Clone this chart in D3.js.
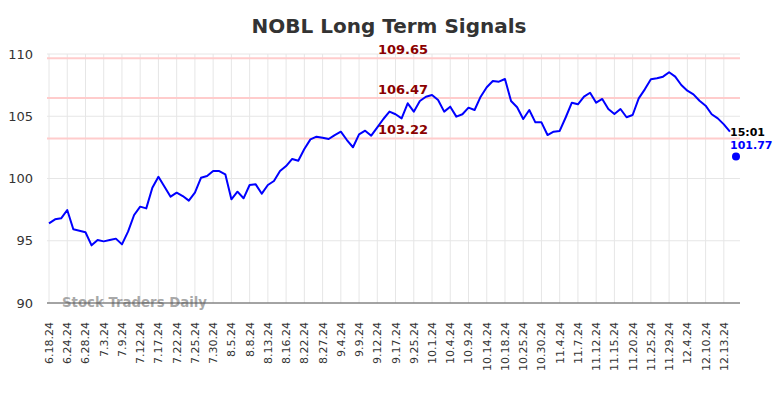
<!DOCTYPE html>
<html><head><meta charset="utf-8">
<script src="https://cdn.jsdelivr.net/npm/d3@7"></script>
<style>body{margin:0;background:#fff}svg{display:block}</style>
</head><body><svg id="c" width="784" height="398"></svg>
<script>
const tickLabels = ["6.18.24","6.24.24","6.28.24","7.3.24","7.9.24","7.12.24","7.17.24","7.22.24","7.25.24","7.30.24","8.5.24","8.8.24","8.13.24","8.16.24","8.22.24","8.27.24","9.4.24","9.9.24","9.12.24","9.17.24","9.25.24","10.1.24","10.4.24","10.9.24","10.14.24","10.18.24","10.25.24","10.30.24","11.4.24","11.7.24","11.12.24","11.15.24","11.20.24","11.25.24","11.29.24","12.4.24","12.10.24","12.13.24"];
const prices = [96.40,96.72,96.80,97.47,95.92,95.81,95.68,94.63,95.06,94.95,95.06,95.17,94.71,95.73,97.07,97.74,97.60,99.26,100.14,99.34,98.54,98.86,98.59,98.22,98.86,100.06,100.20,100.60,100.60,100.34,98.33,98.94,98.41,99.48,99.53,98.78,99.48,99.80,100.60,101.00,101.57,101.43,102.37,103.14,103.36,103.28,103.17,103.49,103.76,103.09,102.51,103.55,103.84,103.44,104.11,104.78,105.37,105.16,104.83,106.04,105.37,106.22,106.57,106.71,106.31,105.37,105.77,104.97,105.16,105.69,105.50,106.57,107.33,107.83,107.78,107.99,106.22,105.72,104.78,105.50,104.51,104.51,103.49,103.76,103.82,104.92,106.09,105.96,106.57,106.89,106.09,106.39,105.58,105.18,105.58,104.92,105.10,106.44,107.16,107.97,108.05,108.18,108.53,108.18,107.51,107.05,106.76,106.25,105.85,105.16,104.83,104.35,103.76];
const signalLevels = [109.65, 106.47, 103.22];
const yTicks = [90, 95, 100, 105, 110];
const lastTime = "15:01";
const lastPrice = 101.77;
const labelStep = 3;

const svg = d3.select("#c");
const pLeft = 47, pRight = 740, pTop = 54, pBottom = 303;
const x = d3.scaleLinear().domain([0, prices.length]).range([49, 736]);
const y = d3.scaleLinear().domain([90, 110]).range([pBottom, pTop]);

// title
svg.append("text").attr("x", 389).attr("y", 33).attr("text-anchor", "middle")
  .attr("font-family", "DejaVu Sans").attr("font-weight", "bold").attr("font-size", 20)
  .attr("fill", "#333").text("NOBL Long Term Signals");

// horizontal grid
svg.append("g").selectAll("line").data(yTicks).join("line")
  .attr("x1", pLeft).attr("x2", pRight).attr("y1", d => y(d)).attr("y2", d => y(d))
  .attr("stroke", "#e6e6e6").attr("stroke-width", 1);
// vertical grid
const tickIdx = tickLabels.map((d, i) => i * labelStep);
svg.append("g").selectAll("line").data(tickIdx).join("line")
  .attr("x1", d => x(d)).attr("x2", d => x(d)).attr("y1", pTop).attr("y2", pBottom)
  .attr("stroke", "#e6e6e6").attr("stroke-width", 1);

// y labels
const yAxis = svg.append("g").attr("transform", `translate(${pLeft},0)`)
  .call(d3.axisLeft(y).tickValues(yTicks).tickSize(0).tickPadding(14).tickFormat(d3.format("d")));
yAxis.select(".domain").remove();
yAxis.selectAll("text").attr("font-family", "DejaVu Sans").attr("font-size", 13).attr("fill", "#333");

// signal lines
svg.append("g").selectAll("line").data(signalLevels).join("line")
  .attr("x1", pLeft).attr("x2", pRight).attr("y1", d => y(d)).attr("y2", d => y(d))
  .attr("stroke", "#ffcccc").attr("stroke-width", 2);

// watermark
svg.append("text").attr("x", 62).attr("y", 307)
  .attr("font-family", "DejaVu Sans").attr("font-weight", "bold").attr("font-size", 13.3)
  .attr("fill", "#999").attr("fill-opacity", 0.85).text("Stock Traders Daily");

// x axis line
svg.append("line").attr("x1", pLeft).attr("x2", pRight).attr("y1", pBottom).attr("y2", pBottom)
  .attr("stroke", "#555").attr("stroke-width", 1);

// x labels
svg.append("g").selectAll("text").data(tickLabels).join("text")
  .attr("transform", (d, i) => `translate(${x(i * labelStep) + 4},322) rotate(-90)`)
  .attr("text-anchor", "end").attr("font-family", "DejaVu Sans").attr("font-size", 11)
  .attr("fill", "#333").text(d => d);

// price line
svg.append("path").datum(prices)
  .attr("d", d3.line().x((d, i) => x(i)).y(d => y(d)))
  .attr("fill", "none").attr("stroke", "#0000ff").attr("stroke-width", 2).attr("stroke-linejoin", "round");

// signal labels
svg.append("g").selectAll("text").data(signalLevels).join("text")
  .attr("x", 403).attr("y", d => y(d) - 4).attr("text-anchor", "middle")
  .attr("font-family", "DejaVu Sans").attr("font-weight", "bold").attr("font-size", 13)
  .attr("fill", "#8b0000").text(d => d.toFixed(2));

// last point
svg.append("circle").attr("cx", x(prices.length)).attr("cy", y(lastPrice)).attr("r", 4).attr("fill", "#0000ff");
svg.append("text").attr("x", 730).attr("y", 136).attr("font-family", "DejaVu Sans").attr("font-weight", "bold")
  .attr("font-size", 11).attr("fill", "#000").text(lastTime);
svg.append("text").attr("x", 730).attr("y", 149).attr("font-family", "DejaVu Sans").attr("font-weight", "bold")
  .attr("font-size", 11).attr("fill", "#0000ff").text(lastPrice.toFixed(2));
</script></body></html>
